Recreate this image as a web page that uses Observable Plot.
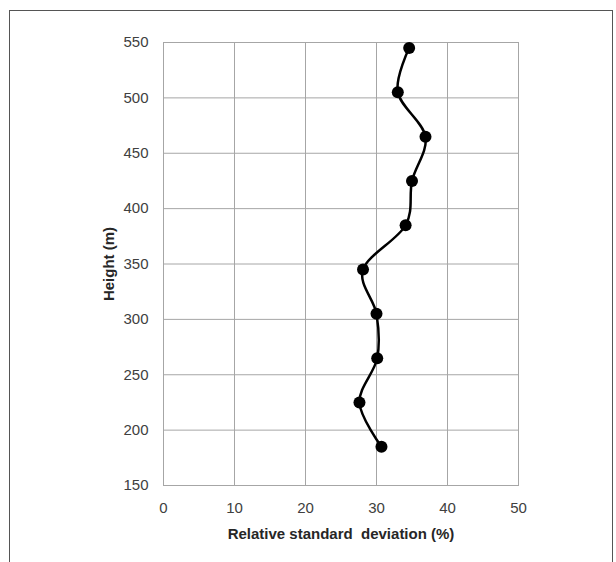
<!DOCTYPE html>
<html><head><meta charset="utf-8">
<script src="https://cdn.jsdelivr.net/npm/d3@7"></script>
<script src="https://cdn.jsdelivr.net/npm/@observablehq/plot@0.6"></script>
<style>
html,body{margin:0;padding:0;background:#fff;}
#wrap{position:relative;width:616px;height:562px;overflow:hidden;}
#border{position:absolute;left:9px;top:10px;width:604px;height:600px;border:1px solid #555;box-sizing:border-box;pointer-events:none;}
</style></head><body><div id="wrap"></div>
<script>
const heights = [185, 225, 265, 305, 345, 385, 425, 465, 505, 545];
const rsd = [30.7, 27.6, 30.1, 30.0, 28.1, 34.1, 35.0, 36.9, 33.0, 34.6];
const xTicks = [0, 10, 20, 30, 40, 50];
const yTicks = [150, 200, 250, 300, 350, 400, 450, 500, 550];
const xLabel = "Relative standard  deviation (%)";
const yLabel = "Height (m)";

const data = heights.map((h, i) => ({height: h, rsd: rsd[i]}));

const chart = Plot.plot({
  width: 616,
  height: 562,
  marginLeft: 163,
  marginRight: 98,
  marginTop: 42,
  marginBottom: 77,
  style: {fontFamily: "'Liberation Sans', Arial, sans-serif", background: "transparent"},
  x: {domain: [0, 50]},
  y: {domain: [150, 550]},
  marks: [
    Plot.gridX(xTicks, {stroke: "#a6a6a6", strokeOpacity: 1, strokeWidth: 1}),
    Plot.gridY(yTicks, {stroke: "#a6a6a6", strokeOpacity: 1, strokeWidth: 1}),
    Plot.frame({stroke: "#a6a6a6", strokeWidth: 1}),
    Plot.axisX({ticks: xTicks, tickSize: 0, tickPadding: 17, fontSize: 15, color: "#404040", label: null}),
    Plot.axisY({ticks: yTicks, tickSize: 0, tickPadding: 15, fontSize: 15, color: "#404040", label: null}),
    Plot.text([xLabel], {frameAnchor: "bottom", textAnchor: "middle", dy: 53, fontSize: 15, fontWeight: "bold", fill: "#262626"}),
    Plot.text([yLabel], {frameAnchor: "left", textAnchor: "middle", dx: -54, rotate: -90, fontSize: 15, fontWeight: "bold", fill: "#262626"}),
    Plot.line(data, {x: "rsd", y: "height", curve: "cardinal", tension: 0, stroke: "black", strokeWidth: 2.5}),
    Plot.dot(data, {x: "rsd", y: "height", r: 6, fill: "black", stroke: "none"})
  ]
});
const wrap = document.getElementById("wrap");
wrap.appendChild(chart);
const b = document.createElement("div");
b.id = "border";
wrap.appendChild(b);
</script>
</body></html>
